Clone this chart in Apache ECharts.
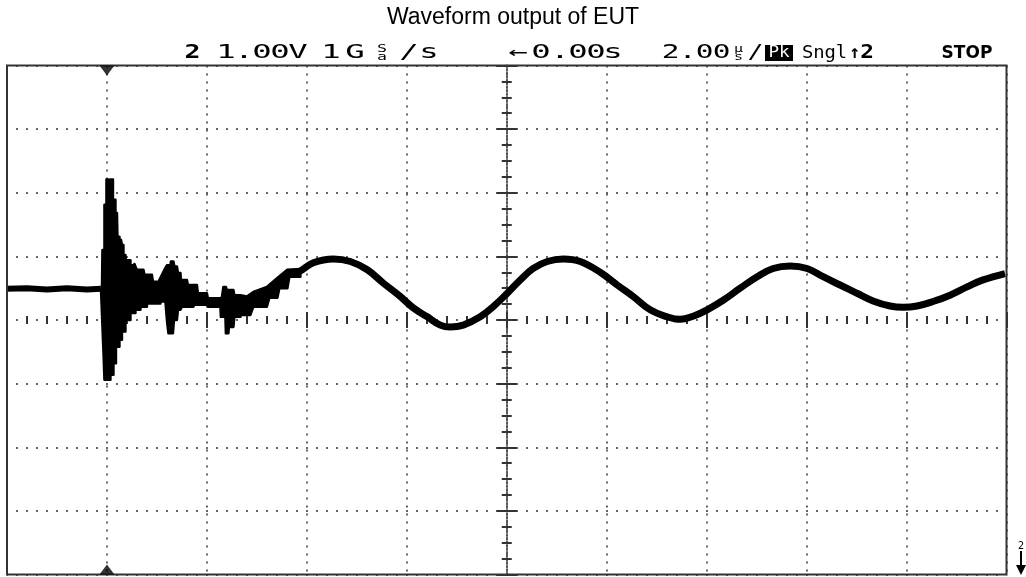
<!DOCTYPE html>
<html><head><meta charset="utf-8">
<script src="https://cdn.jsdelivr.net/npm/echarts@6/dist/echarts.min.js"></script>
<style>html,body{margin:0;padding:0;background:#fff}#c{width:1026px;height:577px}</style>
</head><body><div id="c"></div>
<script>
// ---------- data (time in µs, amplitude in V) ----------
const titleText = 'Waveform output of EUT';
const timeRange = [-10, 10];      // 2 µs/div, 10 div
const timeDiv = 2;
const voltRange = [-4, 4];        // 1 V/div, 8 div
const voltDiv = 1;
const triggerTime = -8.0;

const preTrigger = [[-10.0,0.49],[-9.6,0.50],[-9.2,0.48],[-8.8,0.50],[-8.4,0.48],[-8.12,0.49]];

const burstUpper = [[-8.10,0.49],[-8.09,1.10],[-8.05,1.10],[-8.05,1.81],[-8.01,1.81],[-8.01,2.21],[-7.97,2.21],[-7.97,1.81],
 [-7.93,1.81],[-7.93,2.21],[-7.88,2.21],[-7.88,1.89],[-7.83,1.89],[-7.83,1.68],[-7.80,1.68],[-7.79,1.31],[-7.75,1.31],
 [-7.75,1.26],[-7.72,1.26],[-7.70,1.18],[-7.67,1.18],[-7.67,1.02],[-7.63,1.02],[-7.62,0.94],[-7.53,0.94],[-7.53,0.86],
 [-7.47,0.86],[-7.45,0.88],[-7.43,0.84],[-7.40,0.79],[-7.27,0.79],[-7.25,0.71],[-7.10,0.71],[-7.08,0.60],[-6.97,0.60],
 [-6.90,0.71],[-6.85,0.79],[-6.80,0.86],[-6.73,0.86],[-6.72,0.92],[-6.67,0.92],[-6.65,0.84],[-6.60,0.84],[-6.58,0.74],
 [-6.53,0.74],[-6.52,0.63],[-6.40,0.63],[-6.38,0.55],[-6.20,0.55],[-6.18,0.42],[-6.00,0.42],[-5.98,0.34],[-5.73,0.34],
 [-5.70,0.36],[-5.67,0.52],[-5.62,0.52],[-5.60,0.47],[-5.47,0.47],[-5.45,0.39],[-5.33,0.39],[-5.20,0.37],[-5.07,0.44],
 [-4.80,0.52],[-4.59,0.66],[-4.39,0.79],[-4.13,0.80]];

const burstLower = [[-8.12,0.49],[-8.07,-0.50],[-8.05,-0.94],[-7.93,-0.94],[-7.93,-0.86],[-7.87,-0.86],[-7.87,-0.68],
 [-7.82,-0.68],[-7.82,-0.42],[-7.75,-0.42],[-7.75,-0.31],[-7.70,-0.31],[-7.70,-0.18],[-7.63,-0.18],[-7.63,0.00],
 [-7.53,0.00],[-7.53,0.11],[-7.43,0.11],[-7.43,0.16],[-7.33,0.16],[-7.33,0.21],[-7.20,0.21],[-7.20,0.26],[-6.93,0.26],
 [-6.93,0.29],[-6.83,0.29],[-6.80,0.00],[-6.77,-0.21],[-6.68,-0.21],[-6.66,0.00],[-6.60,0.00],[-6.58,0.16],[-6.53,0.16],
 [-6.50,0.21],[-6.27,0.21],[-6.25,0.24],[-6.00,0.24],[-5.98,0.21],[-5.73,0.21],[-5.72,0.05],[-5.63,0.05],[-5.62,-0.21],
 [-5.57,-0.21],[-5.56,-0.11],[-5.47,-0.11],[-5.45,0.05],[-5.33,0.05],[-5.32,0.08],[-5.13,0.08],[-5.07,0.21],[-4.80,0.21],
 [-4.75,0.35],[-4.59,0.35],[-4.55,0.50],[-4.39,0.50],[-4.35,0.68],[-4.13,0.68]];

const ringing = [[-4.30,0.71],[-4.13,0.77],[-3.87,0.90],[-3.47,0.96],[-3.13,0.92],[-2.79,0.79],[-2.47,0.58],[-2.13,0.37],
 [-1.87,0.19],[-1.59,0.05],[-1.33,-0.08],[-1.13,-0.11],[-0.87,-0.08],[-0.53,0.05],[-0.27,0.21],[0.01,0.42],[0.27,0.63],
 [0.53,0.81],[0.81,0.92],[1.13,0.96],[1.47,0.92],[1.87,0.75],[2.21,0.55],[2.53,0.37],[2.87,0.16],[3.21,0.05],[3.47,0.01],
 [3.73,0.06],[4.01,0.16],[4.33,0.31],[4.67,0.50],[5.01,0.68],[5.33,0.81],[5.67,0.85],[6.01,0.81],[6.33,0.68],[6.67,0.55],
 [7.01,0.42],[7.33,0.30],[7.67,0.22],[7.93,0.20],[8.21,0.22],[8.53,0.29],[8.87,0.39],[9.21,0.52],[9.53,0.63],[9.97,0.73]];

// status line texts
const stChannel = '2';
const stScale = '1.00V';
const stRate = ['1', 'G', 'S', 'a', '/', 's'];
const stDelay = '←0.00s';
const stTime = ['2', '.', '0', '0', 'µ', 's', '/'];
const stMode = 'Pk';
const stAcq = 'Sngl';
const stTrig = ['↑', '2'];
const stRun = 'STOP';
const gndLabel = '2';

// ---------- chart ----------
const chart = echarts.init(document.getElementById('c'), null, {renderer: 'canvas', width: 1026, height: 577});
const mono = 'DejaVu Sans Mono';
const statusY = 53;
function txt(str, x, y, o) {
  o = o || {};
  return { type: 'text', x: x, y: y, z: 100, scaleX: o.sx || 1,
    style: { text: str, fontFamily: o.family || mono, fontSize: o.size || 19, fontWeight: o.weight || 'normal',
      fill: o.fill || '#000', textAlign: o.align || 'center', align: o.align || 'center',
      textVerticalAlign: 'middle', verticalAlign: 'middle' } };
}
const SX = 1.7;
function at(chars, centers, o) {
  return chars.map((ch, i) => txt(ch, centers[i], statusY, Object.assign({ sx: SX }, o || {})));
}
function cells(str, x0, cell, o) {
  return Array.from(str).map((ch, i) => txt(ch, x0 + cell * i + cell / 2, statusY, Object.assign({ sx: SX }, o || {})));
}
function stacked(top, bottom, x, sz) {
  sz = sz || 10;
  return [txt(top, x, statusY - 4, { size: sz, sx: 1.5 }), txt(bottom, x, statusY + 4, { size: sz, sx: 1.5 })];
}
const g = [];
g.push(txt(stChannel, 192.5, statusY, { weight: 'bold', sx: 1.4 }));
g.push(...cells(stScale, 217, 18));
g.push(...at([stRate[0], stRate[1]], [331, 355]));
g.push(...stacked(stRate[2], stRate[3], 382, 11));
g.push(...at([stRate[4], stRate[5]], [409, 429]));
g.push(...at(Array.from(stDelay), [518, 541, 560, 578, 596, 613]));
g.push(...at(stTime.slice(0, 4), [670.5, 687.5, 704.5, 721.5], { sx: 1.55 }));
g.push(...stacked(stTime[4], stTime[5], 738.5));
g.push(txt(stTime[6], 755.5, statusY, { sx: 1.4 }));
g.push({ type: 'rect', z: 99, shape: { x: 765, y: statusY - 8, width: 28, height: 16 }, style: { fill: '#000' } });
g.push(txt(stMode, 779, statusY, { fill: '#fff', size: 16, sx: 1.1 }));
g.push(...cells(stAcq, 802, 11.25, { sx: 1.05, size: 18 }));
g.push(txt(stTrig[0], 855, statusY, { weight: 'bold', size: 18 }));
g.push(txt(stTrig[1], 867, statusY, { weight: 'bold', size: 19, sx: 1.2 }));
g.push(txt(stRun, 967, statusY + 1, { family: 'DejaVu Sans', weight: 'bold', size: 17 }));
// channel ground marker (off-screen below)
g.push(txt(gndLabel, 1021, 546, { size: 10 }));
g.push({ type: 'line', z: 100, shape: { x1: 1021, y1: 551, x2: 1021, y2: 567 }, style: { stroke: '#000', lineWidth: 2 } });
g.push({ type: 'polygon', z: 100, shape: { points: [[1016, 565], [1026, 565], [1021, 575]] }, style: { fill: '#000' } });

const tickStyle = { color: '#333', width: 2 };
function xCenterAxis(inside, withSplit) {
  return { type: 'value', min: timeRange[0], max: timeRange[1], interval: timeDiv, position: 'bottom',
    axisLine: { show: false, onZero: true, onZeroAxisIndex: 0 }, axisLabel: { show: false },
    axisTick: { show: true, inside: inside, length: 8, lineStyle: tickStyle },
    minorTick: { show: true, splitNumber: 5, length: 4, lineStyle: tickStyle },
    splitLine: { show: withSplit, lineStyle: { color: '#666', width: 2, type: [2, 6] } } };
}
function yCenterAxis(inside, withSplit) {
  return { type: 'value', min: voltRange[0], max: voltRange[1], interval: voltDiv, position: 'left',
    axisLine: { show: withSplit, onZero: true, onZeroAxisIndex: 0, lineStyle: { color: '#555', width: 2, type: [1.5, 2] } },
    axisLabel: { show: false },
    axisTick: { show: true, inside: inside, length: 10, lineStyle: tickStyle },
    minorTick: { show: true, splitNumber: 4, length: 5, lineStyle: tickStyle },
    splitLine: { show: withSplit, lineStyle: { color: '#666', width: 2, type: [2, 8], dashOffset: 1 } } };
}

const option = {
  animation: false,
  backgroundColor: '#fff',
  title: { text: titleText, left: 'center', top: 1,
    textStyle: { fontFamily: 'Liberation Sans', fontSize: 23, fontWeight: 'normal', color: '#000' } },
  grid: { left: 7, right: 19.5, top: 65.5, bottom: 2.5, show: true, borderColor: '#333', borderWidth: 2, z: 10 },
  xAxis: [xCenterAxis(false, true), xCenterAxis(true, false)],
  yAxis: [yCenterAxis(false, true), yCenterAxis(true, false)],
  graphic: g,
  series: [
    { name: 'pre-trigger', type: 'line', data: preTrigger, showSymbol: false, z: 5,
      lineStyle: { color: '#000', width: 6 } },
    { name: 'burst', type: 'custom', data: [[triggerTime, 0]], z: 5, clip: true,
      renderItem: function (params, api) {
        const pts = burstUpper.map(p => api.coord(p)).concat(burstLower.slice().reverse().map(p => api.coord(p)));
        return { type: 'polygon', shape: { points: pts }, style: { fill: '#000', stroke: '#000', lineWidth: 2.5, lineJoin: 'round' } };
      } },
    { name: 'ringing', type: 'line', data: ringing, showSymbol: false, smooth: 0.4, z: 5,
      lineStyle: { color: '#000', width: 7 } },
    { name: 'trigger', type: 'scatter', clip: false, z: 20, symbol: 'triangle', symbolSize: [15, 10],
      itemStyle: { color: '#000' },
      data: [
        { value: [triggerTime, voltRange[1]], symbolRotate: 180, symbolOffset: [0, 5] },
        { value: [triggerTime, voltRange[0]], symbolRotate: 0, symbolOffset: [0, -5] }
      ] }
  ]
};
chart.setOption(option);
</script></body></html>
